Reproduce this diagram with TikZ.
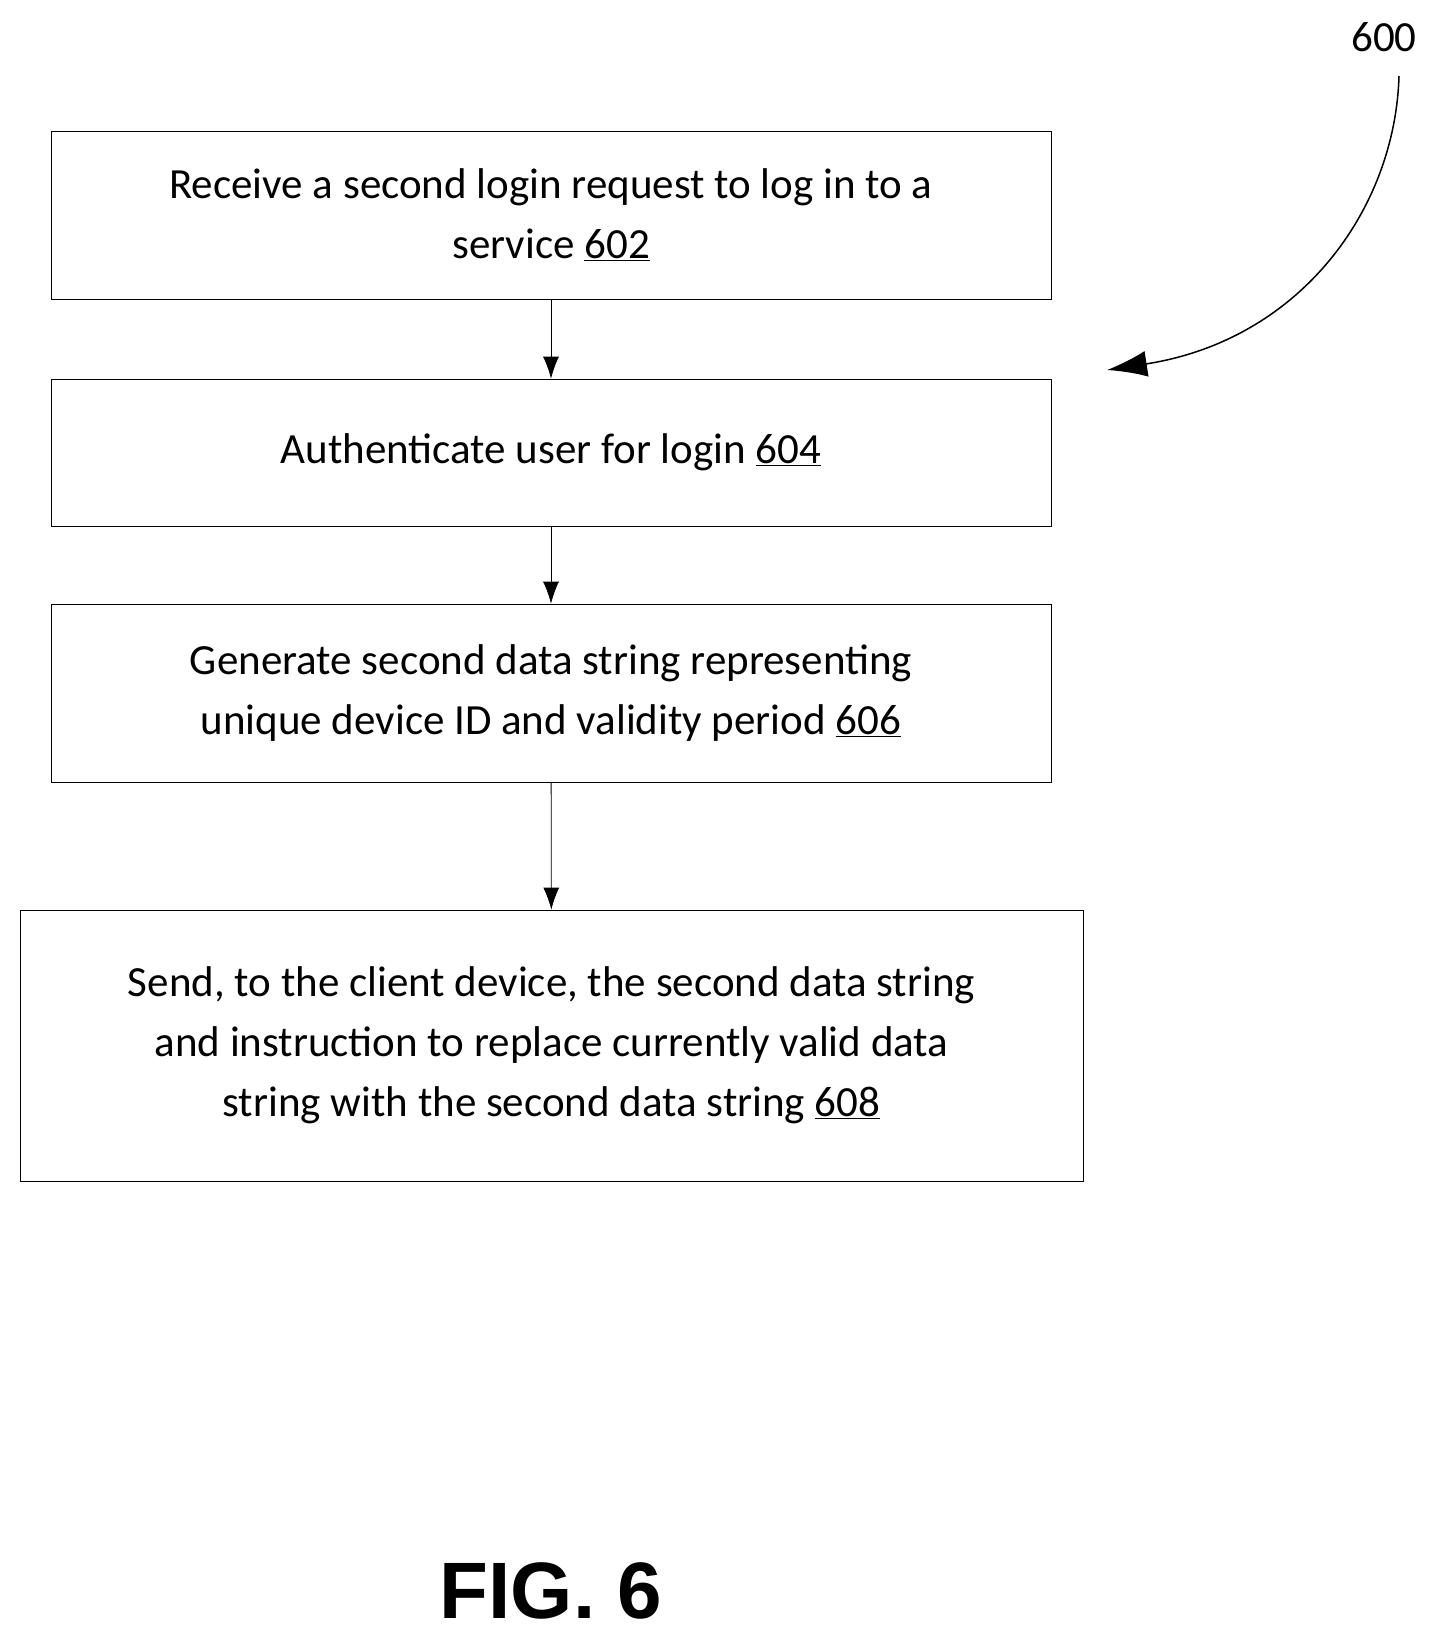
\documentclass[tikz,border=0pt]{standalone}
\usepackage{fontspec}
\setmainfont{Carlito}
\newfontfamily\figfont{Liberation Sans}
\begin{document}
\begin{tikzpicture}[x=1pt,y=-1pt,
  box/.style={draw, line width=0.8pt, align=center, font=\fontsize{43}{60}\selectfont, inner sep=0pt},
  arr/.style={-{Latex[length=22pt,width=16pt]}, line width=0.8pt}]
\useasboundingbox (0,0) rectangle (1440,1644);
\usetikzlibrary{arrows.meta}
\node[box, minimum width=1000pt, minimum height=168pt] (b1) at (551,215) {Receive a second login request to log in to a\\service \underline{602}};
\node[box, minimum width=1000pt, minimum height=147pt] (b2) at (551,452.5) {Authenticate user for login \underline{604}};
\node[box, minimum width=1000pt, minimum height=178pt] (b3) at (551,693) {Generate second data string representing\\unique device ID and validity period \underline{606}};
\node[box, minimum width=1063pt, minimum height=271pt] (b4) at (551.5,1045.5) {Send, to the client device, the second data string\\and instruction to replace currently valid data\\string with the second data string \underline{608}};
\draw[arr] (b1) -- (b2);
\draw[arr] (b2) -- (b3);
\draw[arr] (b3) -- (b4);
\node[font=\fontsize{43}{50}\selectfont] (l600) at (1384,37) {600};
\coordinate (tip) at (1107,370);
\draw[-{Latex[length=40pt,width=26pt]}, line width=1.5pt] (1399,76) .. controls (1395,210) and (1300,340) .. (tip);
\node[font=\figfont\bfseries\fontsize{80}{90}\selectfont] (fig) at (551,1591) {FIG. 6};
\end{tikzpicture}
\end{document}
